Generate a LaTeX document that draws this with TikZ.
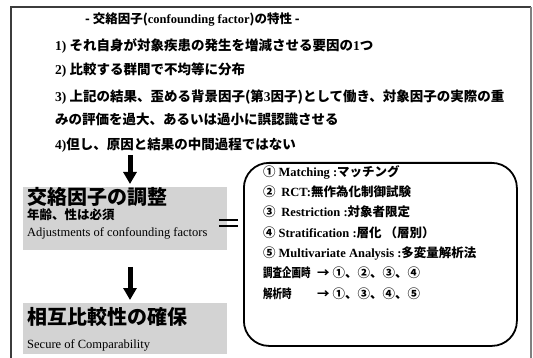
\documentclass[tikz,border=0pt]{standalone}
\usepackage{fontspec}
\setmainfont{Liberation Serif}
\newfontfamily\jp{Noto Sans CJK JP}
\usetikzlibrary{arrows.meta}
\newcommand\lt[1]{{\rmfamily\bfseries #1}}
\definecolor{boxgray}{RGB}{211,211,211}
\definecolor{framegray}{RGB}{60,60,60}
\tikzset{
  jptext/.style={anchor=west, inner sep=0pt, font=\jp\bfseries\fontsize{13.5}{16}\selectfont},
  titletext/.style={anchor=west, inner sep=0pt, font=\jp\bfseries\fontsize{12.5}{15}\selectfont},
  itemtext/.style={anchor=west, inner sep=0pt, font=\jp\bfseries\fontsize{12.5}{15}\selectfont},
  bigtext/.style={anchor=base west, inner sep=0pt, font=\jp\bfseries\fontsize{20}{24}\selectfont},
  subtext/.style={anchor=base west, inner sep=0pt, font=\jp\bfseries\fontsize{12.5}{15}\selectfont},
  entext/.style={anchor=base west, inner sep=0pt, font=\rmfamily\fontsize{12.5}{15}\selectfont},
  graybox/.style={fill=boxgray, draw=none, inner sep=0pt, anchor=north west},
  bigarrow/.style={line width=5pt, -{Triangle[width=13pt,length=12pt]}},
}
\begin{document}
\begin{tikzpicture}[x=1pt,y=-1pt]
\useasboundingbox (0,0) rectangle (533,358);
\fill[white] (0,0) rectangle (533,358);
% outer frame
\draw[framegray, line width=1.3pt] (11,362) -- (11,7) -- (531,7);
\draw[gray, line width=2.5pt] (531,7) -- (531,362);
% title and list
\node[titletext] (title) at (85,20) {- 交絡因子(\lt{confounding factor})の特性 -};
\node[jptext] (l1) at (55,46) {\lt{1)} それ自身が対象疾患の発生を増減させる要因の\lt{1}つ};
\node[jptext] (l2) at (55,70) {\lt{2)} 比較する群間で不均等に分布};
\node[jptext] (l3) at (55,97) {\lt{3)} 上記の結果、歪める背景因子(第\lt{3}因子)として働き、対象因子の実際の重};
\node[jptext] (l3b) at (55,119) {みの評価を過大、あるいは過小に誤認識させる};
\node[jptext] (l4) at (55,145) {\lt{4)}但し、原因と結果の中間過程ではない};
% gray boxes
\node[graybox, minimum width=204pt, minimum height=63pt] (b1) at (23,187) {};
\node[graybox, minimum width=204pt, minimum height=51pt] (b2) at (23,303) {};
\node[bigtext] (b1t) at (27,205) {交絡因子の調整};
\node[subtext] (b1s) at (27,220) {年齢、性は必須};
\node[entext] (b1e) at (27,237) {Adjustments of confounding factors};
\node[bigtext] (b2t) at (27,324.5) {相互比較性の確保};
\node[entext] (b2e) at (27,348) {Secure of Comparability};
% arrows
\coordinate (a1s) at (130,155);
\coordinate (a2s) at (130,267);
\draw[bigarrow] (a1s) -- ([yshift=3pt]b1.north -| a1s);
\draw[bigarrow] (a2s) -- ([yshift=3pt]b2.north -| a2s);
% rounded box
\node[draw, line width=1.8pt, rounded corners=25pt, minimum width=273pt, minimum height=183pt, anchor=north west, inner sep=0pt] (rb) at (243,162) {};
% equals sign
\draw[line width=2pt] (219,220) -- (238,220);
\draw[line width=2pt] (219,226) -- (238,226);
% items
\node[itemtext] (i1) at (263,172) {① \lt{Matching :}マッチング};
\node[itemtext] (i2) at (263,192) {②\ \ \lt{RCT:}無作為化制御試験};
\node[itemtext] (i3) at (263,212) {③\ \ \lt{Restriction :}対象者限定};
\node[itemtext] (i4) at (263,233) {④ \lt{Stratification :}層化 （層別）};
\node[itemtext] (i5) at (263,253) {⑤ \lt{Multivariate Analysis :}多変量解析法};
\node[itemtext] (i6) at (263,273) {\scalebox{0.76}[1]{調査企画時}};
\node[itemtext] (i6b) at (317,273) {→ ①、②、③、④};
\node[itemtext] (i7) at (263,294) {\scalebox{0.76}[1]{解析時}};
\node[itemtext] (i7b) at (317,294) {→ ①、③、④、⑤};
\end{tikzpicture}
\end{document}
